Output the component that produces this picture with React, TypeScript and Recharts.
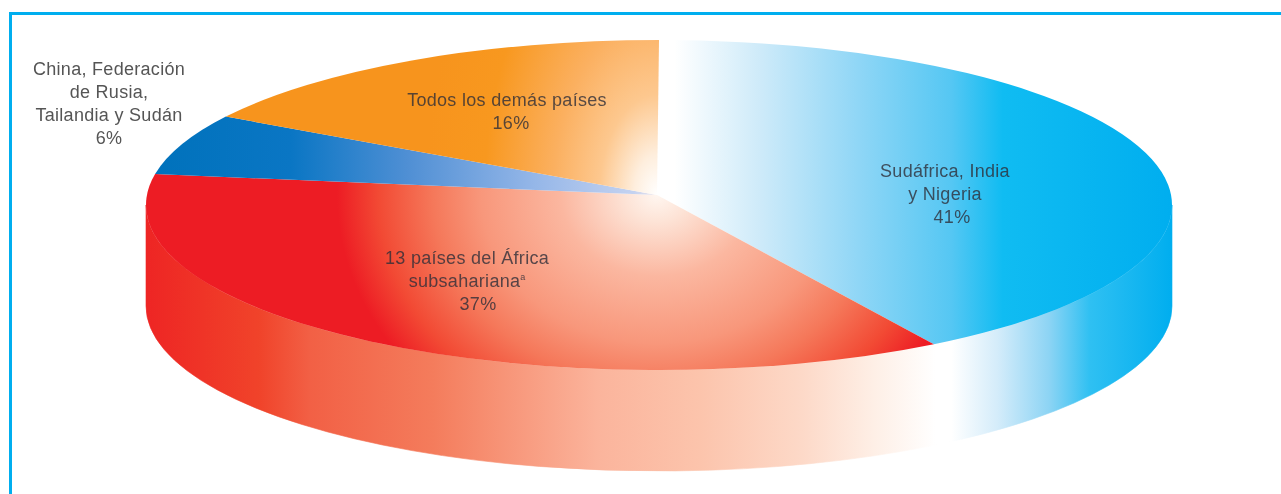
import React from 'react';
import { Pie, PieChart } from 'recharts';

const sliceNames = [
	'Sudáfrica, India y Nigeria',
	'13 países del África subsahariana',
	'China, Federación de Rusia, Tailandia y Sudán',
	'Todos los demás países',
];
const sliceValues = [41, 37, 6, 16];
const sliceLines = [
	['Sudáfrica, India', 'y Nigeria'],
	['13 países del África', 'subsahariana'],
	['China, Federación', 'de Rusia,', 'Tailandia y Sudán'],
	['Todos los demás países'],
];

const WIDTH = 1281;
const HEIGHT = 494;
const CX = 659;
const CY = 205;
const RADIUS = 513;
const SQUASH = 165 / 513;
const DEPTH = 101;
const APEX_LIFT = 10;
const LINE_HEIGHT = 23;
const labelSpots = [
	{ x: 945, y: 177 },
	{ x: 467, y: 264 },
	{ x: 109, y: 75 },
	{ x: 507, y: 106 },
];
const percentShift = [7, 11, 0, 4];

const topRows = sliceNames.map((name, i) => ({
	name,
	value: sliceValues[i],
	fill: `url(#top${i})`,
}));
const wallRows = sliceNames.map((name, i) => ({
	name,
	value: sliceValues[i],
	fill: 'url(#wall)',
}));

// recharts angles, squashed onto the tilted disc
const rimPoint = (angle: number, dy = 0) => {
	const rad = (angle * Math.PI) / 180;
	return {
		x: CX + RADIUS * Math.cos(rad),
		y: CY - RADIUS * SQUASH * Math.sin(rad) + dy,
	};
};

const TopSlice = (props: any) => {
	const { startAngle, endAngle, fill } = props;
	const a = rimPoint(startAngle);
	const b = rimPoint(endAngle);
	const large = Math.abs(startAngle - endAngle) > 180 ? 1 : 0;
	const d = `M${CX - 2},${CY - APEX_LIFT} L${a.x},${a.y} A${RADIUS},${RADIUS * SQUASH} 0 ${large} 1 ${b.x},${b.y} Z`;
	return <path d={d} fill={fill} stroke="none" />;
};

const WallSlice = (props: any) => {
	const { startAngle, endAngle, fill } = props;
	// only the front half of the rim shows
	const from = Math.min(startAngle, 0);
	const to = Math.max(endAngle, -180);
	if (from <= to) return null;
	const a = rimPoint(from);
	const b = rimPoint(to);
	const c = rimPoint(to, DEPTH);
	const e = rimPoint(from, DEPTH);
	const ry = RADIUS * SQUASH;
	const d = `M${a.x},${a.y} A${RADIUS},${ry} 0 0 1 ${b.x},${b.y} L${c.x},${c.y} A${RADIUS},${ry} 0 0 0 ${e.x},${e.y} Z`;
	return <path d={d} fill={fill} stroke={fill} strokeWidth={0.6} />;
};

const SliceLabel = (props: any) => {
	const { index, value } = props;
	const spot = labelSpots[index];
	const lines = sliceLines[index];
	return (
		<text
			x={spot.x}
			y={spot.y}
			textAnchor="middle"
			fontFamily="Liberation Sans"
			fontSize={18}
			letterSpacing={0.3}
			fill={index === 2 ? '#555555' : '#2e2e38'}
			fillOpacity={index === 2 ? 1 : 0.8}>
			{lines.map((line, i) => (
				<tspan key={line} x={spot.x} y={spot.y + i * LINE_HEIGHT}>
					{line}
				</tspan>
			))}
			{index === 1 && (
				<tspan dy={-7} fontSize={9} letterSpacing={0}>
					a
				</tspan>
			)}
			<tspan x={spot.x + percentShift[index]} y={spot.y + lines.length * LINE_HEIGHT}>
				{`${value}%`}
			</tspan>
		</text>
	);
};

const Stops = ({ stops }: { stops: [number, string][] }) => (
	<>
		{stops.map(([offset, color]) => (
			<stop key={offset} offset={offset} stopColor={color} />
		))}
	</>
);

const App = () => {
	return (
		<div style={{ position: 'absolute', left: 0, top: 0, width: WIDTH, height: HEIGHT, overflow: 'hidden', background: '#fff' }}>
			<div style={{ position: 'absolute', left: 9, top: 12, right: 0, bottom: 0, borderLeft: '3px solid #00aeef', borderTop: '3px solid #00aeef' }} />
			<div style={{ position: 'absolute', left: 0, top: 0, filter: 'blur(0.7px)' }}>
				<PieChart width={WIDTH} height={HEIGHT} margin={{ top: 0, right: 0, bottom: 0, left: 0 }}>
					<defs>
						<linearGradient id="top0" gradientUnits="userSpaceOnUse" x1={659} y1={0} x2={1172} y2={0}>
							<Stops stops={[[0, '#ffffff'], [0.03, '#ffffff'], [0.2, '#cdeaf9'], [0.39, '#8fd6f6'], [0.57, '#55c7f3'], [0.67, '#10bcf2'], [1, '#00aeef']]} />
						</linearGradient>
						<radialGradient id="top1" gradientUnits="userSpaceOnUse" cx={0} cy={0} r={1} gradientTransform="translate(657 195) scale(320 270)">
							<Stops stops={[[0, '#fff6f0'], [0.1, '#fde3d6'], [0.3, '#fbb7a0'], [0.55, '#f8977b'], [0.7, '#f5785a'], [0.87, '#f24a34'], [1, '#ed1c24']]} />
						</radialGradient>
						<linearGradient id="top2" gradientUnits="userSpaceOnUse" x1={155} y1={0} x2={659} y2={0}>
							<Stops stops={[[0, '#0072bc'], [0.27, '#0a76c4'], [0.5, '#4f8fd4'], [0.75, '#94b6e8'], [0.95, '#c4d2f0'], [1, '#f4e8e8']]} />
						</linearGradient>
						<radialGradient id="top3" gradientUnits="userSpaceOnUse" cx={0} cy={0} r={1} gradientTransform="translate(657 195) scale(230 400)">
							<Stops stops={[[0, '#ffffff'], [0.1, '#feeedd'], [0.25, '#fdc88f'], [0.45, '#fbb060'], [0.75, '#f8981f'], [1, '#f7941d']]} />
						</radialGradient>
						<linearGradient id="wall" gradientUnits="userSpaceOnUse" x1={146} y1={0} x2={1172} y2={0}>
							<Stops stops={[[0, '#ee2524'], [0.11, '#f0432a'], [0.16, '#f26045'], [0.28, '#f47c5c'], [0.44, '#fbb49c'], [0.54, '#fcc4ac'], [0.64, '#fdd9c8'], [0.71, '#feefe6'], [0.77, '#ffffff'], [0.785, '#ffffff'], [0.83, '#d4ecfa'], [0.88, '#8dd4f4'], [0.92, '#2fc0f2'], [1, '#00aeef']]} />
						</linearGradient>
					</defs>
					<Pie
						data={wallRows}
						dataKey="value"
						cx={CX}
						cy={CY}
						outerRadius={RADIUS}
						startAngle={90}
						endAngle={-270}
						shape={WallSlice}
						isAnimationActive={false}
					/>
					<Pie
						data={topRows}
						dataKey="value"
						cx={CX}
						cy={CY}
						outerRadius={RADIUS}
						startAngle={90}
						endAngle={-270}
						shape={TopSlice}
						label={SliceLabel}
						labelLine={false}
						isAnimationActive={false}
					/>
				</PieChart>
			</div>
		</div>
	);
};

export default App;
